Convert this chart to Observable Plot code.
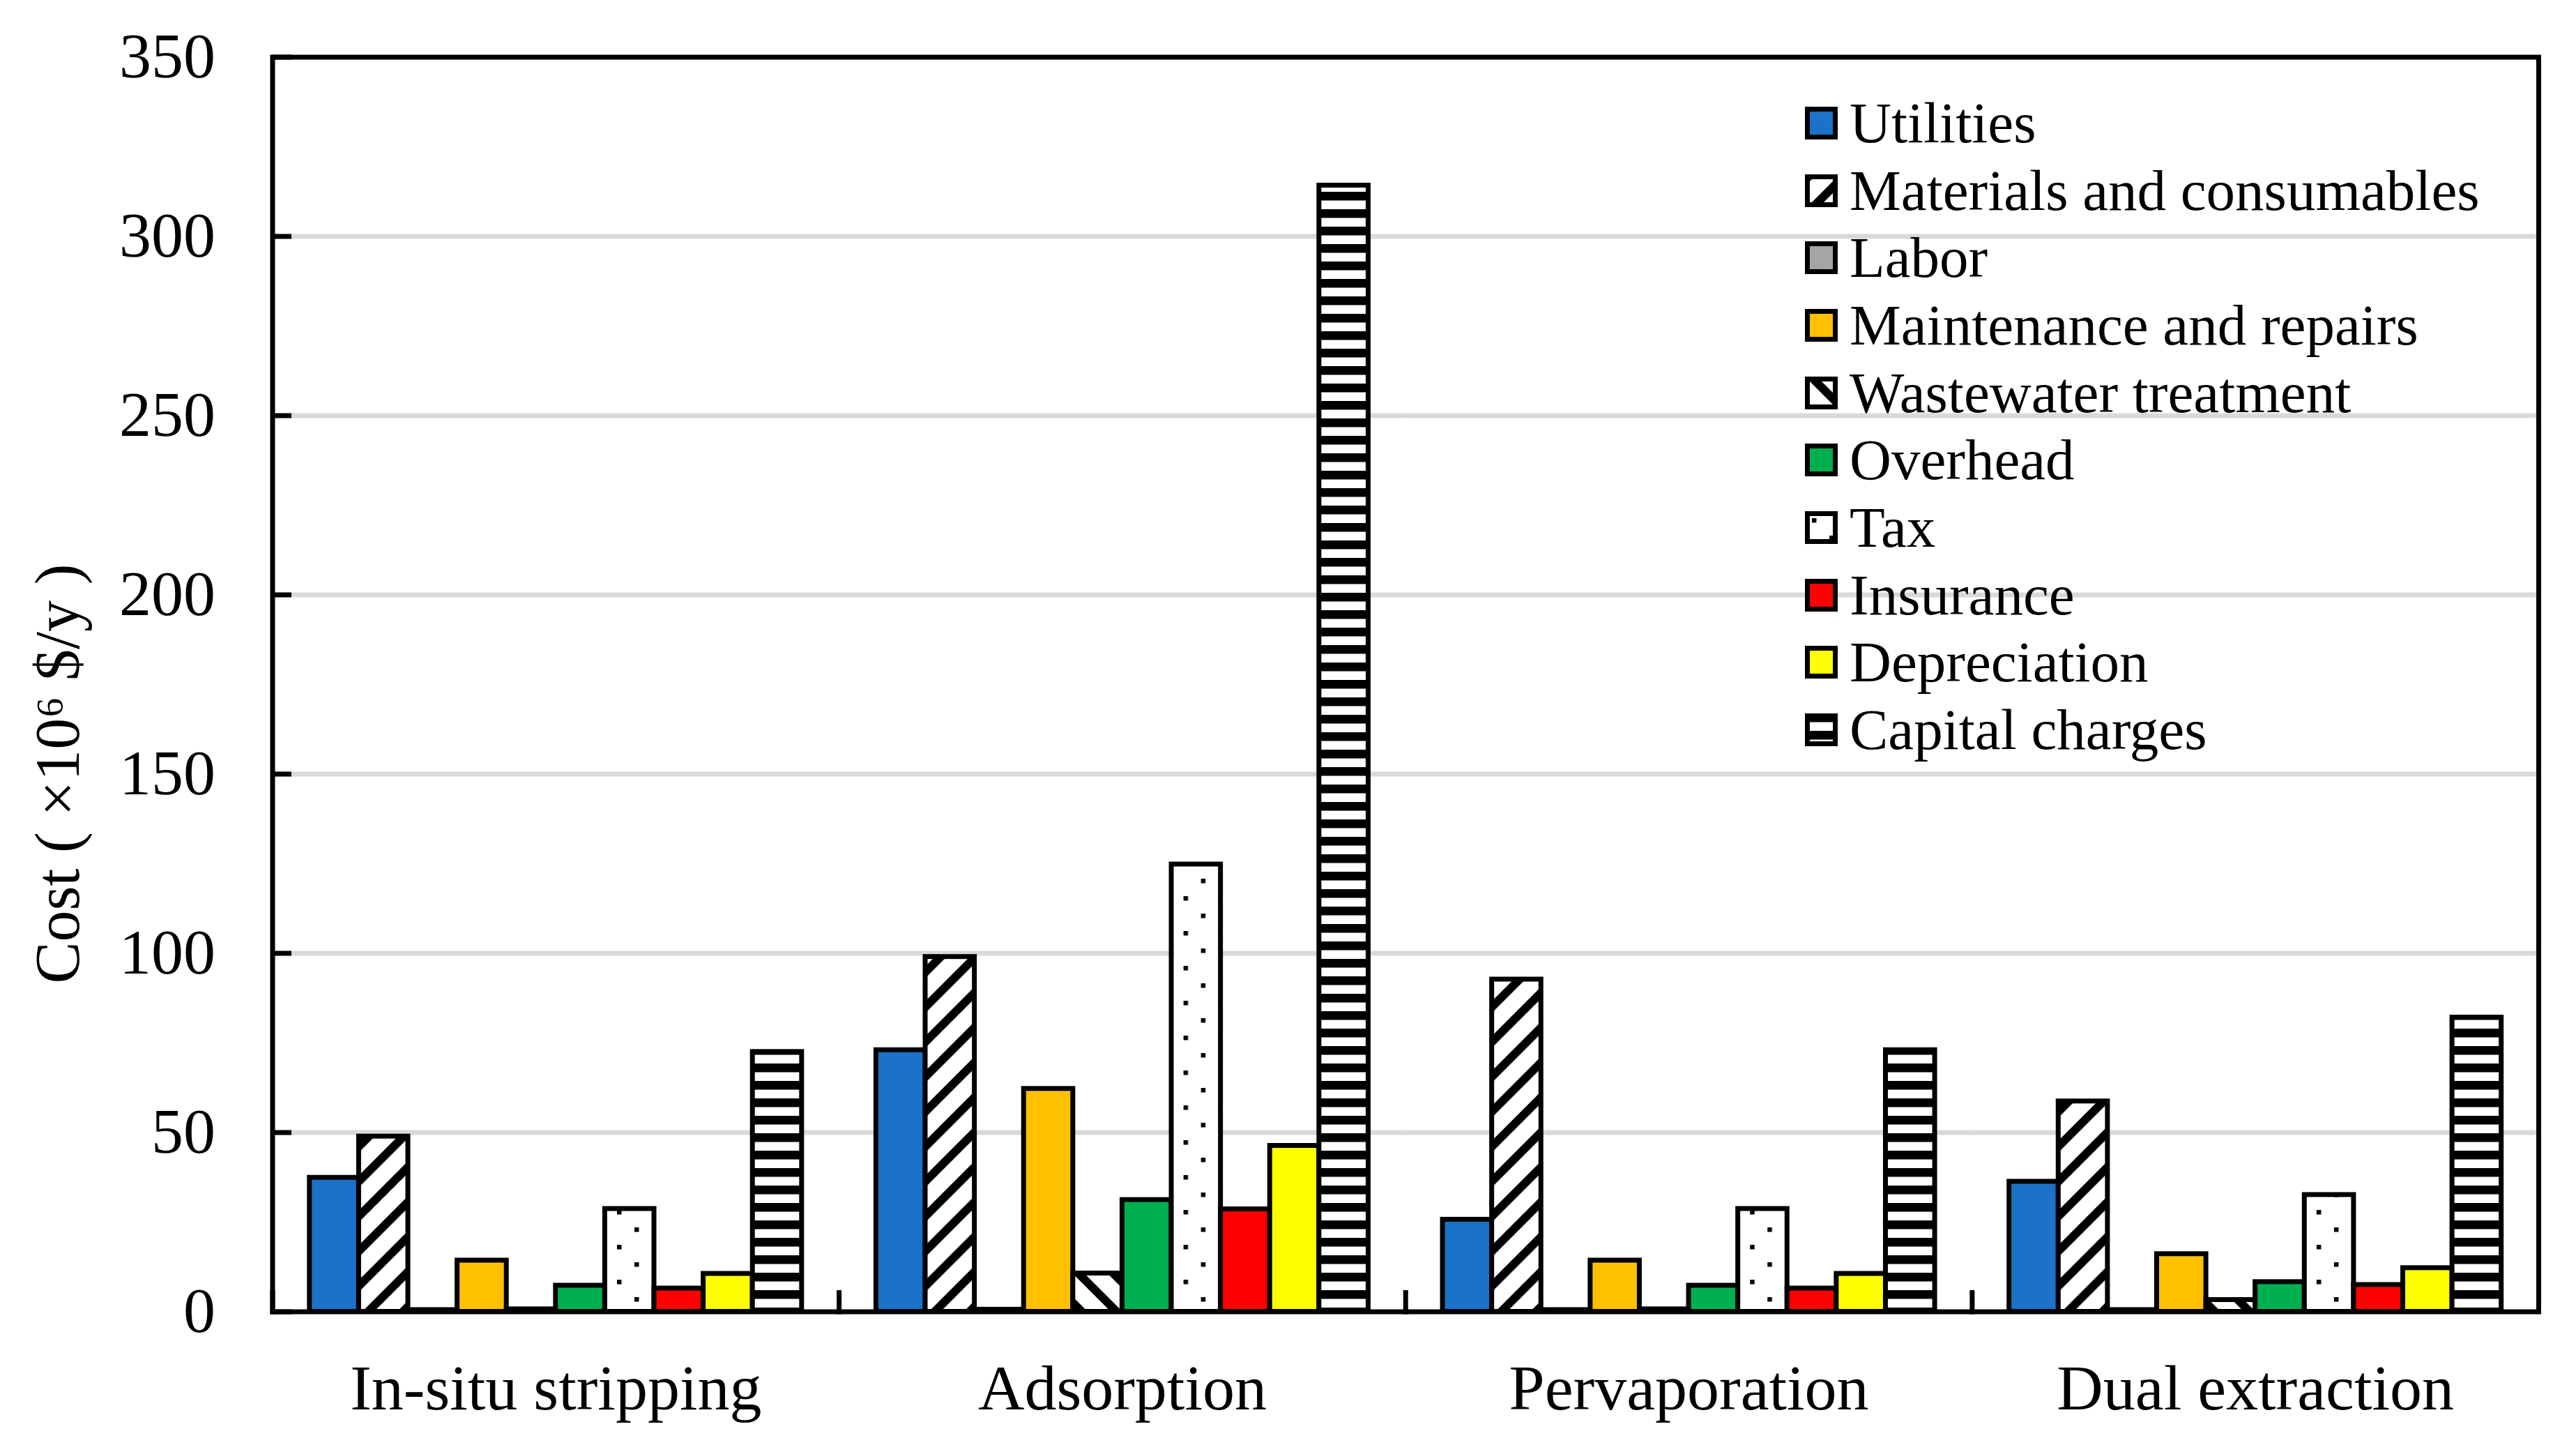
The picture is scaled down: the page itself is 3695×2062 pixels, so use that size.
<!DOCTYPE html>
<html>
<head>
<meta charset="utf-8">
<script src="https://cdn.jsdelivr.net/npm/d3@7"></script>
<script src="https://cdn.jsdelivr.net/npm/@observablehq/plot@0.6"></script>
<style>
html, body { margin: 0; padding: 0; background: #fff; }
#wrap { position: relative; width: 3695px; height: 2062px; font-family: "Liberation Serif", "Times New Roman", serif; color: #000; }
#legend { position: absolute; left: 2589px; top: 128px; }
.row { display: flex; align-items: center; height: 96.7px; }
.row svg { flex: none; display: block; }
.row span { font-size: 83px; margin-left: 17px; line-height: 1; white-space: nowrap; }
</style>
</head>
<body>
<svg width="0" height="0" style="position:absolute">
  <defs>
    <pattern id="pMat" patternUnits="userSpaceOnUse" width="35.36" height="35.36" patternTransform="rotate(45)">
      <rect width="35.36" height="35.36" fill="#fff"/>
      <rect width="12" height="35.36" fill="#000"/>
    </pattern>
    <pattern id="pWaste" patternUnits="userSpaceOnUse" width="35.36" height="35.36" patternTransform="rotate(-45)">
      <rect width="35.36" height="35.36" fill="#fff"/>
      <rect width="12" height="35.36" fill="#000"/>
    </pattern>
    <pattern id="pTax" patternUnits="userSpaceOnUse" width="50" height="50">
      <rect width="50" height="50" fill="#fff"/>
      <rect x="10" y="10" width="6.5" height="6.5" fill="#000"/>
      <rect x="35" y="35" width="6.5" height="6.5" fill="#000"/>
    </pattern>
    <pattern id="pCap" patternUnits="userSpaceOnUse" width="25" height="25">
      <rect width="25" height="25" fill="#fff"/>
      <rect width="25" height="12.5" fill="#000"/>
    </pattern>
  </defs>
</svg>
<div id="wrap">
  <div id="chart"></div>
  <div id="legend"></div>
</div>
<script>
// ---- data ----
const groups = ["In-situ stripping", "Adsorption", "Pervaporation", "Dual extraction"];
const series = ["Utilities", "Materials and consumables", "Labor", "Maintenance and repairs",
  "Wastewater treatment", "Overhead", "Tax", "Insurance", "Depreciation", "Capital charges"];
const fills = ["#1a73c8", "url(#pMat)", "#a5a5a5", "#ffc000", "url(#pWaste)",
  "#00b050", "url(#pTax)", "#ff0000", "#ffff00", "url(#pCap)"];

// values per series, in group order
const utilities    = [37.4, 73.0, 25.7, 36.3];
const materials    = [48.9, 99.0, 92.7, 58.7];
const labor        = [0.5, 0.6, 0.5, 0.5];
const maintenance  = [14.3, 62.2, 14.3, 16.1];
const wastewater   = [0.7, 10.7, 0.7, 3.3];
const overhead     = [7.3, 31.2, 7.3, 8.3];
const tax          = [28.7, 124.8, 28.7, 32.6];
const insurance    = [6.5, 28.6, 6.5, 7.5];
const depreciation = [10.6, 46.3, 10.6, 12.2];
const capital      = [72.5, 314.2, 73.0, 82.1];

const yTicks = [0, 50, 100, 150, 200, 250, 300, 350];
const yTitle = "Cost ( \u00d710\u2076 $/y )";

const valuesBySeries = [utilities, materials, labor, maintenance, wastewater,
  overhead, tax, insurance, depreciation, capital];

const rows = [];
groups.forEach((g, gi) => {
  series.forEach((s, si) => {
    rows.push({group: g, series: s, value: valuesBySeries[si][gi]});
  });
});

// ---- layout ----
const W = 3695, H = 2062;
const mL = 390.5, mR = 54, mT = 81.5, mB = 181.5;
const innerH = H - mT - mB;

const chart = Plot.plot({
  width: W,
  height: H,
  marginLeft: mL,
  marginRight: mR,
  marginTop: mT,
  marginBottom: mB,
  style: {fontFamily: "'Liberation Serif', 'Times New Roman', serif", background: "#fff", color: "#000"},
  fx: {domain: groups, padding: 0, round: false, axis: null, label: null},
  x: {domain: series, paddingInner: 0, paddingOuter: 0.755, round: false, axis: null},
  y: {domain: [0, 350], axis: null},
  color: {domain: series, range: fills},
  marks: [
    Plot.gridY({ticks: yTicks.slice(1, -1), stroke: "#d9d9d9", strokeOpacity: 1, strokeWidth: 7}),
    Plot.barY(rows, {fx: "group", x: "series", y: "value", fill: "series", stroke: "#000", strokeWidth: 7}),
    // category boundary ticks (inward, at each facet's left edge)
    Plot.frame({anchor: "left", insetTop: innerH - 27.5, stroke: "#000", strokeWidth: 7}),
    // inward y ticks
    Plot.axisY({ticks: yTicks, tickSize: -27.5, tickFormat: () => "", strokeWidth: 7, label: null}),
    // outer frame
    Plot.frame({facet: "super", stroke: "#000", strokeWidth: 7}),
    // y tick labels
    Plot.axisY({ticks: yTicks, tickSize: 0, tickPadding: 82, fontSize: 92, label: null, tickFormat: d => String(d)}),
    // category labels
    Plot.axisFx({anchor: "bottom", tickSize: 0, tickPadding: 75, fontSize: 92, label: null}),
    // y title
    Plot.text([yTitle], {facet: "super", frameAnchor: "left", rotate: -90, dx: -307, dy: 128, fontSize: 90, textAnchor: "middle", fill: "#000"})
  ]
});
document.getElementById("chart").appendChild(chart);

// ---- legend (inside plot, top right) ----
const legend = d3.select("#legend");
series.forEach((s, i) => {
  const row = legend.append("div").attr("class", "row");
  const sw = row.append("svg").attr("width", 47).attr("height", 47);
  sw.append("rect").attr("x", 3.5).attr("y", 3.5).attr("width", 40).attr("height", 40)
    .attr("fill", fills[i]).attr("stroke", "#000").attr("stroke-width", 7);
  row.append("span").text(s);
});
</script>
</body>
</html>
